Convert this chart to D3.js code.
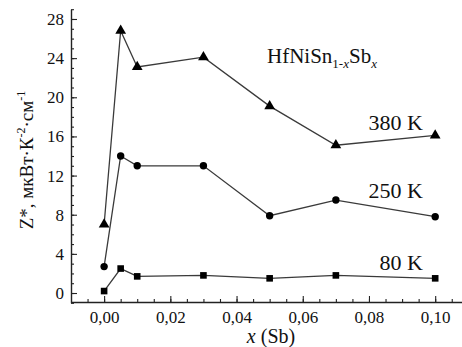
<!DOCTYPE html>
<html><head><meta charset="utf-8">
<script src="https://cdn.jsdelivr.net/npm/d3@7"></script>
<style>
body{margin:0;background:#fff;}
svg text{font-family:"Liberation Serif","Times New Roman","DejaVu Serif",serif !important;}
</style></head>
<body><svg id="c" width="462" height="347"></svg>
<script>
const xValues = [0.000, 0.005, 0.010, 0.030, 0.050, 0.070, 0.100];
const series380 = [7.0, 26.8, 23.1, 24.1, 19.1, 15.1, 16.1];
const series250 = [2.7, 14.0, 13.0, 13.0, 7.9, 9.5, 7.8];
const series80  = [0.2, 2.5, 1.7, 1.8, 1.5, 1.8, 1.5];
const yTicks = [0, 4, 8, 12, 16, 20, 24, 28];
const xTicks = [0.00, 0.02, 0.04, 0.06, 0.08, 0.10];
const seriesNames = ["380 K", "250 K", "80 K"];

const FONT = "Liberation Serif, Times New Roman, DejaVu Serif, serif";
const svg = d3.select("#c");
const x = d3.scaleLinear().domain([-0.01, 0.11]).range([71, 468.3]);
const y = d3.scaleLinear().domain([-1, 29]).range([302.8, 9.2]);
const fmt = d => d.toFixed(2).replace(".", ",");

// minor ticks
svg.append("g").attr("transform","translate(0,302)")
  .call(d3.axisBottom(x).tickValues(d3.range(-0.005, 0.1101, 0.005)).tickSize(-3).tickFormat(""))
  .call(g=>g.select(".domain").remove());
svg.append("g").attr("transform","translate(71,0)")
  .call(d3.axisLeft(y).tickValues(d3.range(-1, 29.01, 1)).tickSize(-3).tickFormat(""))
  .call(g=>g.select(".domain").remove());

const xa = svg.append("g").attr("transform","translate(0,302)")
  .call(d3.axisBottom(x).tickValues(xTicks).tickSize(-6).tickSizeOuter(0).tickPadding(9).tickFormat(fmt));
const ya = svg.append("g").attr("transform","translate(71,0)")
  .call(d3.axisLeft(y).tickValues(yTicks).tickSize(-6).tickSizeOuter(0).tickPadding(7));
svg.selectAll("g").attr("font-family", FONT);
[xa, ya].forEach(a => {
  a.selectAll("text").attr("font-size", 17).attr("fill","#111");
  a.select(".domain").attr("stroke","#222").attr("stroke-width",1.4);
});
svg.selectAll("g line").attr("stroke","#222").attr("stroke-width",1.1);

const line = d3.line().x((d,i)=>x(xValues[i])).y(d=>y(d));
const all = [series380, series250, series80];
all.forEach(s => {
  svg.append("path").datum(s).attr("d", line).attr("fill","none")
    .attr("stroke","#3a3a3a").attr("stroke-width",1.3);
});
const tri = d3.symbol().type(d3.symbolTriangle).size(50);
svg.selectAll(".t").data(series380).enter().append("path")
  .attr("transform",(d,i)=>`translate(${x(xValues[i])},${y(d)})`).attr("d", tri).attr("fill","#000");
svg.selectAll(".c").data(series250).enter().append("circle")
  .attr("cx",(d,i)=>x(xValues[i])).attr("cy",d=>y(d)).attr("r",3.7).attr("fill","#000");
svg.selectAll(".s").data(series80).enter().append("rect")
  .attr("x",(d,i)=>x(xValues[i])-3.3).attr("y",d=>y(d)-3.3).attr("width",6.6).attr("height",6.6).attr("fill","#000");

// series labels
const labelPos = [[423,130],[423,198],[423,270]];
seriesNames.forEach((n,i)=>{
  svg.append("text").attr("x",labelPos[i][0]).attr("y",labelPos[i][1]).attr("text-anchor","end")
    .attr("font-family",FONT).attr("font-size",22).attr("fill","#111").text(n);
});

// compound label
const comp = svg.append("text").attr("x",267).attr("y",63).attr("font-family",FONT).attr("font-size",21).attr("fill","#111");
comp.append("tspan").text("HfNiSn");
comp.append("tspan").attr("font-size",13).attr("dy",5).text("1-");
comp.append("tspan").attr("font-size",13).attr("font-style","italic").text("x");
comp.append("tspan").attr("dy",-5).text("Sb");
comp.append("tspan").attr("font-size",13).attr("dy",5).attr("font-style","italic").text("x");

// x label
const xl = svg.append("text").attr("x",271).attr("y",343).attr("text-anchor","middle").attr("font-family",FONT).attr("font-size",20).attr("fill","#111");
xl.append("tspan").attr("font-style","italic").text("x");
xl.append("tspan").text(" (Sb)");

// y label
const yl = svg.append("text").attr("transform","translate(33,160) rotate(-90)").attr("text-anchor","middle")
  .attr("font-family",FONT).attr("font-size",19).attr("fill","#111");
yl.append("tspan").text("Z*, мкВт·К");
yl.append("tspan").attr("font-size",12).attr("dy",-8).text("-2");
yl.append("tspan").attr("dy",8).text("·см");
yl.append("tspan").attr("font-size",12).attr("dy",-8).text("-1");
</script></body></html>
